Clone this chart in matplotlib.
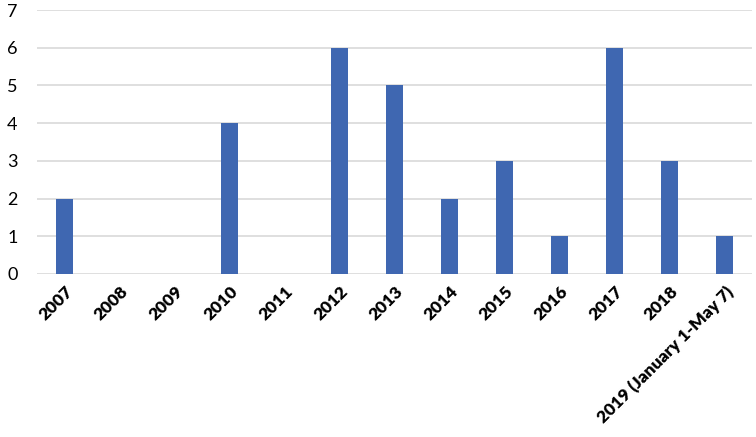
import matplotlib
matplotlib.use("Agg")
import matplotlib.pyplot as plt

categories = ["2007", "2008", "2009", "2010", "2011", "2012", "2013", "2014",
              "2015", "2016", "2017", "2018", "2019 (January 1-May 7)"]
values = [2, 0, 0, 4, 0, 6, 5, 2, 3, 1, 6, 3, 1]
yticks = [0, 1, 2, 3, 4, 5, 6, 7]

plt.rcParams['font.family'] = ['Lato', 'DejaVu Sans']

fig = plt.figure(figsize=(7.56, 4.37), dpi=100)
ax = fig.add_axes([0.049, 0.373, 0.946, 0.604])

x = list(range(len(categories)))
ax.bar(x, values, width=0.31, color='#3F67B1', zorder=3)
ax.set_xlim(-0.5, len(categories) - 0.5)
ax.set_ylim(0, 7)
ax.set_yticks(yticks)
ax.set_yticklabels([str(t) for t in yticks], fontsize=13)
ax.yaxis.grid(True, color='#D9D9D9', linewidth=1.2, zorder=0)
ax.set_xticks(x)
ax.set_xticklabels(categories, rotation=45, ha='right', rotation_mode='anchor',
                   fontsize=12.5, fontweight='heavy')
for s in ax.spines.values():
    s.set_visible(False)
ax.tick_params(axis='both', length=0)
ax.tick_params(axis='y', pad=14)
ax.tick_params(axis='x', pad=7)

fig.savefig("out.png", dpi=100)
